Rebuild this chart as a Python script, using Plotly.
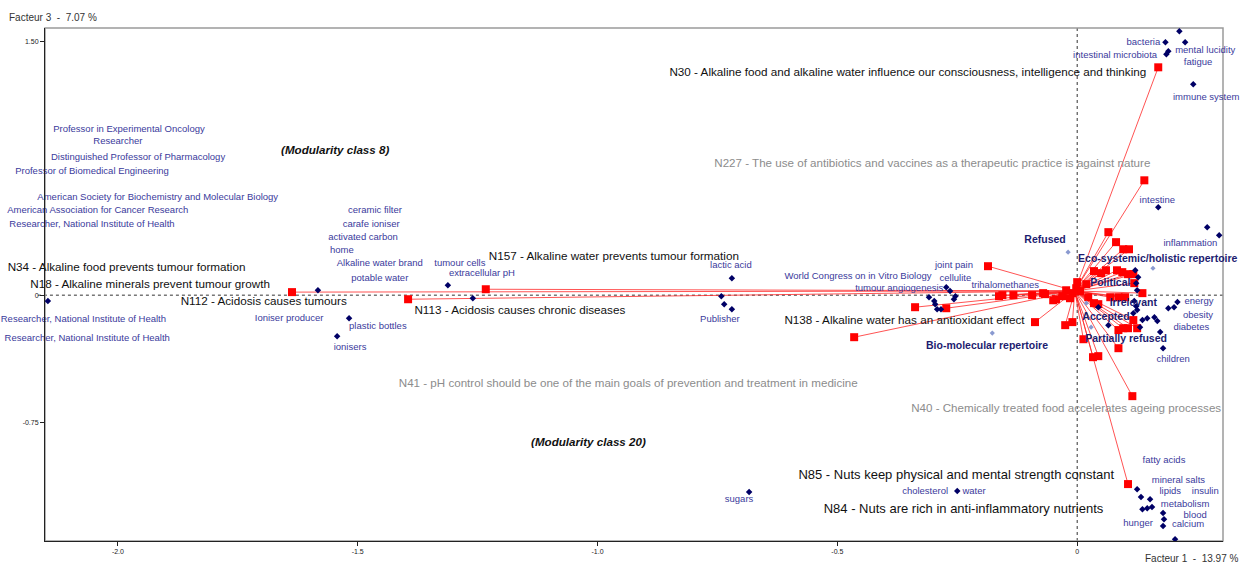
import plotly.graph_objects as go

# ---------------- data ----------------
# claims (red squares), Facteur 1 / Facteur 3 coordinates
claim_x = [0.169, 0.140, 0.065, 0.081, 0.096, 0.108, -0.186, 0.035, 0.050, 0.060, 0.083, 0.094,
           0.106, 0.117, 0.000, 0.019, 0.119, 0.136, -0.023, -0.010, 0.006, -0.031, -0.015, 0.023,
           -0.002, -0.044, -0.067, -0.156, -0.133, -0.094, -0.071, -0.050, -0.338, -0.273, -0.465,
           -0.088, -0.025, -0.010, 0.035, 0.044, 0.069, 0.086, 0.100, 0.086, 0.096, 0.106, 0.125,
           0.117, 0.013, 0.086, 0.033, 0.044, 0.115, 0.106, -1.395, -1.637, -1.233, -0.163]
claim_y = [1.345, 0.678, 0.372, 0.313, 0.271, 0.271, 0.171, 0.142, 0.130, 0.147, 0.147, 0.136,
           0.124, 0.124, 0.077, 0.065, 0.071, 0.012, 0.029, 0.012, 0.024, -0.006, -0.018, -0.012,
           0.041, -0.024, 0.006, 0.000, 0.000, 0.000, 0.012, -0.030, -0.071, -0.077, -0.248,
           -0.159, -0.177, -0.159, -0.047, -0.053, -0.012, -0.012, -0.012, -0.206, -0.195, -0.195, -0.195,
           -0.147, -0.260, -0.313, -0.366, -0.360, -0.596, -1.115, -0.024, 0.018, 0.035, -0.006]
hub = (-0.005, 0.025)

# words (navy diamonds)
word_x = [0.213, 0.184, 0.225, 0.186, 0.190, 0.242, 0.169, 0.271, 0.296,
          0.123, 0.125, 0.121, 0.127, 0.209, 0.190, 0.202, 0.125, 0.117, 0.136, 0.146, 0.161,
          0.167, 0.173, 0.179, 0.131, 0.065, 0.044, 0.123, 0.119,
          -0.273, -0.265, -0.309, -0.298, -0.296, -0.292, -0.284, -0.257, -0.254,
          -0.720, -0.742, -0.736, -0.720, -1.312, -1.260, -1.583, -1.518, -1.543, -2.146,
          -0.684, -0.250,
          0.125, 0.133, 0.152, 0.136, 0.146, 0.156, 0.179, 0.181, 0.179, 0.204]
word_y = [1.558, 1.493, 1.493, 1.422, 1.440, 1.245, 0.519, 0.401, 0.354,
          0.071, 0.029, 0.147, 0.106, -0.041, -0.077, -0.071, -0.088, -0.106, -0.147, -0.136, -0.130,
          -0.153, -0.218, -0.313, -0.189, -0.177, -0.071, -0.065, -0.035,
          0.047, 0.024, -0.012, -0.035, -0.053, -0.083, -0.083, -0.024, -0.006,
          0.100, -0.006, -0.053, -0.083, 0.059, -0.018, 0.029, -0.136, -0.242, -0.035,
          -1.162, -1.156,
          -1.145, -1.192, -1.204, -1.263, -1.257, -1.251, -1.286, -1.322, -1.363, -1.440]

word_labels = ["bacteria", "mental lucidity", "intestinal microbiota", "fatigue", "immune system",
               "intestine", "inflammation", "energy", "obesity", "diabetes", "children",
               "fatty acids", "mineral salts", "lipids", "insulin", "metabolism", "blood", "calcium",
               "hunger", "cholesterol", "water", "sugars", "joint pain", "cellulite",
               "World Congress on in Vitro Biology", "tumour angiogenesis", "trihalomethanes",
               "lactic acid", "Publisher", "tumour cells", "extracellular pH", "ceramic filter",
               "carafe ioniser", "activated carbon", "home", "Alkaline water brand", "potable water",
               "Ioniser producer", "plastic bottles", "ionisers",
               "Professor in Experimental Oncology", "Researcher",
               "Distinguished Professor of Pharmacology", "Professor of Biomedical Engineering",
               "Researcher", "American Society for Biochemistry and Molecular Biology",
               "American Association for Cancer Research", "Researcher, National Institute of Health",
               "Researcher, National Institute of Health", "Researcher, National Institute of Health"]
word_label_x = [0.138, 0.267, 0.079, 0.252, 0.269, 0.167, 0.236, 0.254, 0.252, 0.238, 0.200,
                0.181, 0.211, 0.194, 0.267, 0.225, 0.246, 0.231, 0.127, -0.317, -0.215, -0.705,
                -0.257, -0.254, -0.457, -0.371, -0.150, -0.722, -0.745, -1.287, -1.241, -1.464,
                -1.472, -1.489, -1.533, -1.454, -1.454, -1.643, -1.458, -1.516,
                -1.977, -2.000, -1.958, -2.054, -2.159, -1.917, -2.042, -2.054, -2.072, -2.064]
word_label_y = [1.493, 1.445, 1.416, 1.375, 1.168, 0.560, 0.307, -0.041, -0.118, -0.189, -0.383,
                -0.979, -1.097, -1.162, -1.162, -1.239, -1.304, -1.357, -1.351, -1.162, -1.162, -1.209,
                0.177, 0.100, 0.112, 0.041, 0.059, 0.177, -0.147, 0.189, 0.130, 0.501,
                0.419, 0.342, 0.265, 0.189, 0.100, -0.136, -0.183, -0.307,
                0.979, 0.909, 0.814, 0.732, 0.655, 0.578, 0.501, 0.419, -0.147, -0.254]

# categories (repertoires / positions)
cat_x = [-0.019, 0.158, -0.177, 0.019, 0.029]
cat_y = [0.254, 0.159, -0.224, -0.047, -0.189]
cat_labels = ["Refused", "Eco-systemic/holistic repertoire", "Political", "Irrelevant",
              "Accepted", "Partially refused", "Bio-molecular repertoire"]
cat_label_x = [-0.067, 0.168, 0.069, 0.117, 0.060, 0.102, -0.188]
cat_label_y = [0.324, 0.212, 0.071, -0.047, -0.130, -0.260, -0.301]

# claim labels (modularity class 8)
claim_labels = ["N30 - Alkaline food and alkaline water influence our consciousness, intelligence and thinking",
                "N34 - Alkaline food prevents tumour formation",
                "N18 - Alkaline minerals prevent tumour growth",
                "N112 - Acidosis causes tumours",
                "N157 - Alkaline water prevents tumour formation",
                "N113 - Acidosis causes chronic diseases",
                "N138 - Alkaline water has an antioxidant effect"]
claim_label_x = [-0.353, -1.982, -1.933, -1.696, -0.966, -1.162, -0.360]
claim_label_y = [1.310, 0.159, 0.059, -0.041, 0.224, -0.094, -0.153]

# claim labels (modularity class 20)
nut_labels = ["N85 - Nuts keep physical and mental strength constant",
              "N84 - Nuts are rich in anti-inflammatory nutrients"]
nut_label_x = [-0.252, -0.237]
nut_label_y = [-1.068, -1.268]

sup_labels = ["N227 - The use of antibiotics and vaccines as a therapeutic practice is against nature",
              "N41 - pH control should be one of the main goals of prevention and treatment in medicine",
              "N40 - Chemically treated food accelerates ageing processes"]
sup_label_x = [-0.302, -0.936, -0.023]
sup_label_y = [0.773, -0.525, -0.673]

class_labels = ["(Modularity class 8)", "(Modularity class 20)"]
class_label_x = [-1.547, -1.019]
class_label_y = [0.850, -0.873]

x_ticks = [-2.0, -1.5, -1.0, -0.5, 0]
x_tick_text = ["-2.0", "-1.5", "-1.0", "-0.5", "0"]
y_ticks = [1.5, 0, -0.75]
y_tick_text = ["1.50", "0", "-0.75"]

# ---------------- figure ----------------
FONT = "Liberation Sans, Arial, sans-serif"
fig = go.Figure()

lx, ly = [], []
for cx, cy in zip(claim_x, claim_y):
    lx += [cx, hub[0], None]
    ly += [cy, hub[1], None]
fig.add_trace(go.Scatter(x=lx, y=ly, mode="lines", line=dict(color="rgba(255,40,40,0.8)", width=1),
                         hoverinfo="skip"))
fig.add_trace(go.Scatter(x=claim_x, y=claim_y, mode="markers",
                         marker=dict(symbol="square", size=8, color="#ff0000")))
fig.add_trace(go.Scatter(x=word_x, y=word_y, mode="markers",
                         marker=dict(symbol="diamond", size=5, color="#000066")))
fig.add_trace(go.Scatter(x=cat_x, y=cat_y, mode="markers",
                         marker=dict(symbol="diamond", size=4, color="#8a9ad0")))

fig.add_trace(go.Scatter(x=word_label_x, y=word_label_y, mode="text", text=word_labels,
                         textfont=dict(family=FONT, size=9.5, color="#3a3a9c"), cliponaxis=False))
fig.add_trace(go.Scatter(x=cat_label_x, y=cat_label_y, mode="text",
                         text=["<b>%s</b>" % t for t in cat_labels],
                         textfont=dict(family=FONT, size=10.5, color="#1c1c70"), cliponaxis=False))
fig.add_trace(go.Scatter(x=claim_label_x, y=claim_label_y, mode="text", text=claim_labels,
                         textfont=dict(family=FONT, size=11.7, color="#111111"), cliponaxis=False))
fig.add_trace(go.Scatter(x=nut_label_x, y=nut_label_y, mode="text", text=nut_labels,
                         textfont=dict(family=FONT, size=13, color="#111111"), cliponaxis=False))
fig.add_trace(go.Scatter(x=sup_label_x, y=sup_label_y, mode="text", text=sup_labels,
                         textfont=dict(family=FONT, size=11.6, color="#8c8c8c"), cliponaxis=False))
fig.add_trace(go.Scatter(x=class_label_x, y=class_label_y, mode="text",
                         text=["<b><i>%s</i></b>" % t for t in class_labels],
                         textfont=dict(family=FONT, size=11.6, color="#111111"), cliponaxis=False))

# origin dotted lines
fig.add_shape(type="line", xref="x", yref="paper", x0=0, x1=0, y0=0, y1=1,
              line=dict(color="#333333", width=1, dash="dot"), layer="below")
fig.add_shape(type="line", xref="paper", yref="y", x0=-0.006, x1=1, y0=0, y1=0,
              line=dict(color="#333333", width=1, dash="dot"), layer="below")
# frame (top/right grey)
fig.add_shape(type="rect", xref="paper", yref="paper", x0=0, x1=1, y0=0, y1=1,
              line=dict(color="#9a9a9a", width=1.5), layer="below")

fig.update_layout(
    width=1252, height=566,
    margin=dict(l=45, r=29, t=28, b=25),
    paper_bgcolor="white", plot_bgcolor="white",
    showlegend=False,
    font=dict(family=FONT),
    xaxis=dict(range=[-2.152, 0.304], tickvals=x_ticks, ticktext=x_tick_text,
               showgrid=False, zeroline=False, showline=True, linecolor="#222222", linewidth=1,
               ticks="outside", ticklen=4, tickcolor="#222222", tickfont=dict(size=7, color="#222222")),
    yaxis=dict(range=[-1.451, 1.577], tickvals=y_ticks, ticktext=y_tick_text,
               showgrid=False, zeroline=False, showline=True, linecolor="#222222", linewidth=1,
               ticks="outside", ticklen=4, tickcolor="#222222", tickfont=dict(size=7, color="#222222")),
    annotations=[
        dict(text="Facteur 3  -  7.07 %", xref="paper", yref="paper", x=-0.032, y=1.0, yshift=3,
             xanchor="left", yanchor="bottom", showarrow=False,
             font=dict(family=FONT, size=10, color="#333333")),
        dict(text="Facteur 1  -  13.97 %", xref="paper", yref="paper", x=1.0, y=0, xshift=17, yshift=-25,
             xanchor="right", yanchor="bottom", showarrow=False,
             font=dict(family=FONT, size=10, color="#333333")),
    ],
)

fig.write_html("out.html", config={"displayModeBar": False},
               post_script="document.body.style.margin='0px';document.body.style.overflow='hidden';")
